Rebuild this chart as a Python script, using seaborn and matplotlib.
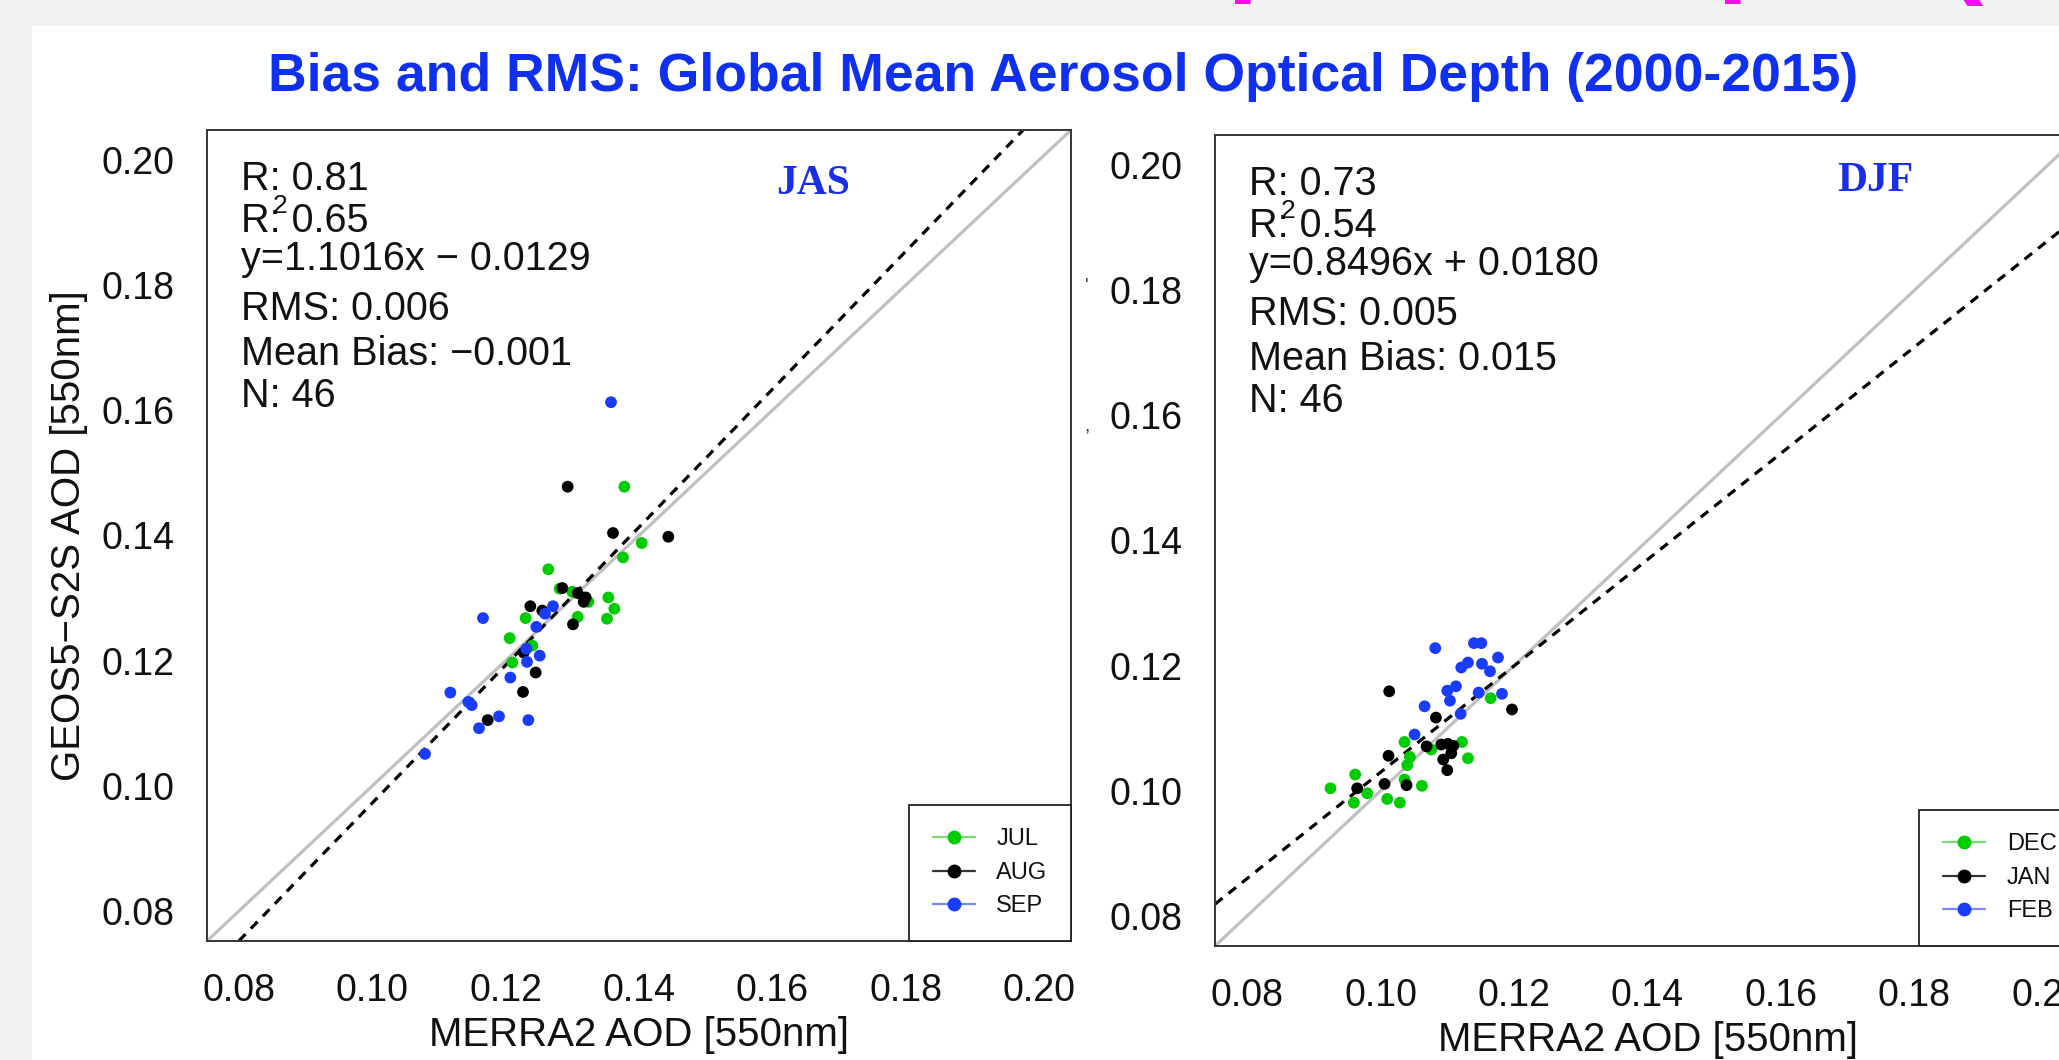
import numpy as np
import pandas as pd
import matplotlib
matplotlib.use("Agg")
import matplotlib.pyplot as plt
from matplotlib.lines import Line2D
from matplotlib.patches import Rectangle
import seaborn as sns

# ---- data ----
jul_x = [0.1378, 0.1404, 0.1376, 0.1264, 0.1281, 0.1300, 0.1324, 0.1354, 0.1363, 0.1352, 0.1308, 0.1230, 0.1206, 0.1240, 0.1210]
jul_y = [0.1478, 0.1388, 0.1365, 0.1346, 0.1315, 0.1310, 0.1294, 0.1301, 0.1283, 0.1267, 0.1270, 0.1268, 0.1236, 0.1224, 0.1197]
aug_x = [0.1293, 0.1361, 0.1444, 0.1285, 0.1308, 0.1320, 0.1317, 0.1237, 0.1255, 0.1301, 0.1227, 0.1245, 0.1226, 0.1173]
aug_y = [0.1478, 0.1404, 0.1398, 0.1316, 0.1308, 0.1301, 0.1294, 0.1287, 0.1280, 0.1258, 0.1213, 0.1181, 0.1150, 0.1105]
sep_x = [0.1358, 0.1166, 0.1271, 0.1259, 0.1246, 0.1231, 0.1251, 0.1232, 0.1207, 0.1117, 0.1144, 0.1149, 0.1190, 0.1160, 0.1234, 0.1079]
sep_y = [0.1613, 0.1268, 0.1287, 0.1275, 0.1254, 0.1219, 0.1208, 0.1198, 0.1173, 0.1149, 0.1134, 0.1129, 0.1111, 0.1092, 0.1105, 0.1051]

dec_x = [0.1165, 0.1036, 0.1122, 0.1044, 0.1131, 0.1040, 0.1076, 0.0962, 0.1036, 0.0925, 0.1062, 0.0980, 0.0960, 0.1010, 0.1029]
dec_y = [0.1148, 0.1078, 0.1078, 0.1054, 0.1052, 0.1041, 0.1066, 0.1026, 0.1018, 0.1004, 0.1008, 0.0996, 0.0981, 0.0987, 0.0981]
jan_x = [0.1013, 0.1197, 0.1083, 0.1069, 0.1091, 0.1101, 0.1109, 0.1106, 0.1094, 0.1100, 0.1012, 0.0965, 0.1006, 0.1039]
jan_y = [0.1159, 0.1130, 0.1117, 0.1071, 0.1074, 0.1075, 0.1072, 0.1060, 0.1050, 0.1033, 0.1056, 0.1004, 0.1011, 0.1009]
feb_x = [0.1082, 0.1140, 0.1151, 0.1176, 0.1131, 0.1121, 0.1152, 0.1164, 0.1113, 0.1100, 0.1104, 0.1147, 0.1182, 0.1066, 0.1120, 0.1051]
feb_y = [0.1228, 0.1236, 0.1236, 0.1213, 0.1205, 0.1197, 0.1203, 0.1191, 0.1167, 0.1160, 0.1144, 0.1157, 0.1155, 0.1135, 0.1123, 0.1090]

seasons = ["JAS", "DJF"]
months = [["JUL", "AUG", "SEP"], ["DEC", "JAN", "FEB"]]
fit_slope = [1.1016, 0.8496]
fit_icpt = [-0.0129, 0.0180]
stat_r = ["0.81", "0.73"]
stat_r2 = ["0.65", "0.54"]
stat_eq = ["y=1.1016x \u2212 0.0129", "y=0.8496x + 0.0180"]
stat_rms = ["0.006", "0.005"]
stat_bias = ["\u22120.001", "0.015"]
stat_n = ["46", "46"]
ticks = [0.08, 0.10, 0.12, 0.14, 0.16, 0.18, 0.20]
tick_labels = ["0.08", "0.10", "0.12", "0.14", "0.16", "0.18", "0.20"]

frames = []
for season, mlist, xs, ys in [("JAS", months[0], [jul_x, aug_x, sep_x], [jul_y, aug_y, sep_y]),
                              ("DJF", months[1], [dec_x, jan_x, feb_x], [dec_y, jan_y, feb_y])]:
    for m, x, y in zip(mlist, xs, ys):
        frames.append(pd.DataFrame({"season": season, "month": m, "merra": x, "geos": y}))
df = pd.concat(frames, ignore_index=True)

sns.set_theme(style="white")
plt.rcParams["font.family"] = ["Liberation Sans", "DejaVu Sans"]

green = "#00cc00"
black = "#000000"
blue = "#1a3cff"
light = ["#77dd77", "#333333", "#7788ff"]
pal = {"JUL": green, "AUG": black, "SEP": blue, "DEC": green, "JAN": black, "FEB": blue}

fig = plt.figure(figsize=(20.59, 10.60), dpi=100, facecolor="#f2f2f2")
fig.patches.append(Rectangle((31.5 / 2059, 0), 1, 1 - 26 / 1060, transform=fig.transFigure,
                             facecolor="white", edgecolor="none", zorder=-10))

# cut-off slide heading fragments at the very top
for xc, ch, off in [(1226, "p", 20), (1716, "p", 20), (1944, "(", 18)]:
    fig.text(xc / 2059, 1 + off / 1060, ch, color="#ee11ee", fontsize=83, fontweight="bold",
             va="baseline", ha="left")

fig.text(1063 / 2059, 1 - 91 / 1060, "Bias and RMS: Global Mean Aerosol Optical Depth (2000-2015)",
         color="#1030f0", fontsize=38.5, fontweight="bold", ha="center", va="baseline")

positions = [[207 / 2059, 1 - 941 / 1060, 864 / 2059, 811 / 1060],
             [1215 / 2059, 1 - 946 / 1060, 865 / 2059, 811 / 1060]]
tag_pos = [(0.701, 0.933), (0.763, 0.943)]

for i, season in enumerate(seasons):
    ax = fig.add_axes(positions[i])
    sub = df[df["season"] == season]
    ax.axline((0.1, 0.1), slope=1, color="#c0c0c0", lw=2.3, zorder=1)
    ax.axline((0.0, fit_icpt[i]), slope=fit_slope[i], color="black", lw=2.3,
              dashes=(3.0, 2.4), zorder=2)
    sns.scatterplot(data=sub, x="merra", y="geos", hue="month", palette=pal, s=72,
                    linewidth=0, legend=False, ax=ax, zorder=3)
    ax.set_xlim(0.0752, 0.2048)
    ax.set_ylim(0.0752, 0.2048)
    ax.set_xticks(ticks)
    ax.set_xticklabels(tick_labels)
    ax.set_yticks(ticks)
    ax.set_yticklabels(tick_labels)
    ax.tick_params(axis="both", direction="out", length=12.2, width=1.3, color="#404040",
                   labelsize=27, labelcolor="#111111", pad=11)
    for sp in ax.spines.values():
        sp.set_color("#353535")
        sp.set_linewidth(1.4)
    ax.set_xlabel("MERRA2 AOD [550nm]", fontsize=29, color="#111111", labelpad=5)
    if i == 0:
        ax.set_ylabel("GEOS5\u2212S2S AOD [550nm]", fontsize=29, color="#111111", labelpad=10)
    else:
        ax.set_ylabel("")

    tx = 0.0394
    lines = [("R: " + stat_r[i], 0.926), ("R: " + stat_r2[i], 0.874), (stat_eq[i], 0.827),
             ("RMS: " + stat_rms[i], 0.766), ("Mean Bias: " + stat_bias[i], 0.710),
             ("N: " + stat_n[i], 0.658)]
    for txt, yy in lines:
        ax.text(tx, yy, txt, transform=ax.transAxes, fontsize=28.5, color="#111111",
                va="baseline", ha="left")
    ax.text(0.0764, 0.8977, "2", transform=ax.transAxes, fontsize=19, color="#111111",
            va="baseline", ha="left")
    ax.text(tag_pos[i][0], tag_pos[i][1], season, transform=ax.transAxes, fontsize=30,
            fontweight="bold", color="#1a2ee6", family="Liberation Serif", ha="center", va="center")

    handles = [Line2D([0], [0], color=light[k], lw=1.6, marker="o", markersize=9,
                      markerfacecolor=pal[m], markeredgecolor=pal[m])
               for k, m in enumerate(months[i])]
    leg = ax.legend(handles, months[i], loc="lower right", borderaxespad=0, fontsize=17,
                    frameon=True, fancybox=False, framealpha=1, edgecolor="#222222",
                    handlelength=1.8, handletextpad=0.9, labelspacing=0.49, borderpad=1.0)
    leg.get_frame().set_linewidth(1.3)
    for t in leg.get_texts():
        t.set_color("#111111")

# stray marks between the panels
fig.text(1087 / 2059, 1 - 287 / 1060, "'", fontsize=14, color="#333333", ha="center", va="center")
fig.text(1087 / 2059, 1 - 427 / 1060, ",", fontsize=14, color="#333333", ha="center", va="center")

fig.savefig("out.png", dpi=100, facecolor=fig.get_facecolor())
